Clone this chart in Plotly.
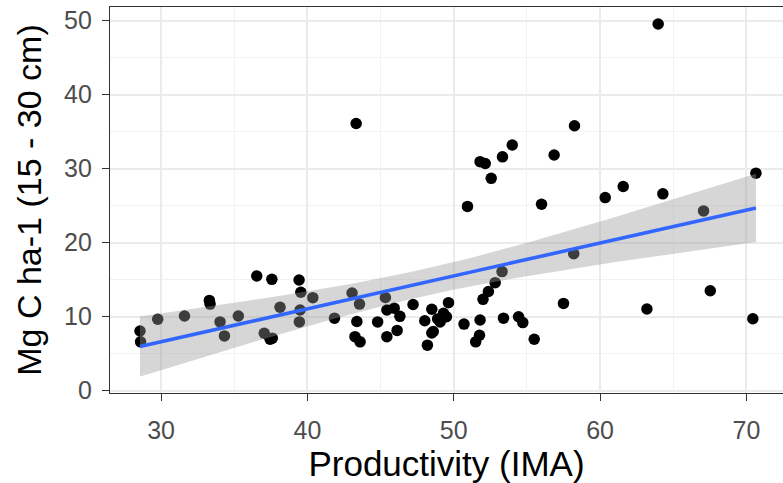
import numpy as np
import plotly.graph_objects as go

# Data
productivity = [28.56, 28.6, 29.77, 31.6, 33.3, 33.35, 34.03, 34.33, 35.28, 36.54,
                37.57, 37.05, 37.45, 37.6, 38.13, 39.43, 39.55, 39.5, 39.45, 40.37,
                41.85, 43.05, 43.56, 43.38, 43.25, 43.6, 43.33, 44.8, 45.33, 45.43,
                45.43, 45.93, 46.32, 46.13, 47.22, 48.5, 48.02, 48.6, 48.5, 48.2,
                49.64, 49.3, 49.07, 48.9, 49.5, 50.7, 50.94, 51.8, 51.76, 51.5,
                51.8, 52.15, 52.56, 52.0, 52.37, 52.83, 53.3, 53.33, 53.4, 54.0,
                54.43, 54.72, 55.5, 56.0, 56.86, 57.5, 58.25, 58.2, 60.35, 61.58,
                63.2, 63.97, 64.29, 67.07, 67.53, 70.44, 70.65]
carbon = [8.07, 6.6, 9.65, 10.1, 12.2, 11.7, 9.3, 7.4, 10.1, 15.5,
          15.05, 7.76, 6.95, 7.1, 11.27, 14.96, 13.3, 10.9, 9.3, 12.57,
          9.8, 13.2, 11.7, 9.35, 7.3, 6.6, 36.1, 9.3, 12.6, 7.3,
          10.9, 11.15, 10.05, 8.15, 11.65, 11.0, 9.45, 8.0, 7.8, 6.15,
          11.9, 10.46, 9.3, 9.7, 10.0, 9.0, 24.9, 9.55, 7.5, 6.6,
          30.95, 30.7, 28.7, 12.35, 13.4, 14.6, 16.1, 31.6, 9.8, 33.2,
          10.0, 9.2, 6.95, 25.2, 31.85, 11.8, 35.8, 18.5, 26.1, 27.6,
          11.04, 49.55, 26.6, 24.3, 13.5, 9.73, 29.4]

x_ticks = [30, 40, 50, 60, 70]
y_ticks = [0, 10, 20, 30, 40, 50]
x_title = "Productivity (IMA)"
y_title = "Mg C ha-1 (15 - 30 cm)"

# Linear fit with 95% confidence band (geom_smooth(method="lm"))
xa = np.array(productivity)
ya = np.array(carbon)
n = len(xa)
b1, b0 = np.polyfit(xa, ya, 1)
resid = ya - (b0 + b1 * xa)
s = np.sqrt(np.sum(resid ** 2) / (n - 2))
xbar = xa.mean()
sxx = np.sum((xa - xbar) ** 2)
xf = np.linspace(xa.min(), xa.max(), 80)
yf = b0 + b1 * xf
tcrit = 1.991
se = s * np.sqrt(1.0 / n + (xf - xbar) ** 2 / sxx)
lo = yf - tcrit * se
hi = yf + tcrit * se

fig = go.Figure()
fig.add_trace(go.Scatter(x=productivity, y=carbon, mode="markers",
                         marker=dict(color="black", size=11.5, line=dict(width=0)),
                         showlegend=False, hoverinfo="skip"))
fig.add_trace(go.Scatter(x=np.concatenate([xf, xf[::-1]]), y=np.concatenate([hi, lo[::-1]]),
                         fill="toself", fillcolor="rgba(153,153,153,0.4)",
                         line=dict(width=0), mode="lines", showlegend=False, hoverinfo="skip"))
fig.add_trace(go.Scatter(x=xf, y=yf, mode="lines", line=dict(color="#3366FF", width=3.6),
                         showlegend=False, hoverinfo="skip"))

font_fam = "Liberation Sans, Arial, sans-serif"
fig.update_layout(
    width=783, height=483,
    margin=dict(l=110, r=0, t=7, b=90, autoexpand=False),
    paper_bgcolor="white", plot_bgcolor="white",
    font=dict(family=font_fam),
    xaxis=dict(range=[26.51, 72.5], tickvals=x_ticks, ticktext=[str(v) for v in x_ticks],
               automargin=False, ticklabelstandoff=8,
               showgrid=True, gridcolor="#EBEBEB", gridwidth=1.6,
               minor=dict(dtick=5, tick0=25, showgrid=True, gridcolor="#F2F2F2", gridwidth=0.8),
               zeroline=False, showline=True, linecolor="#333333", linewidth=1.4, mirror=True,
               ticks="outside", ticklen=7, tickwidth=1.4, tickcolor="#333333",
               tickfont=dict(size=25, color="#4D4D4D"),
               title=dict(text=x_title, font=dict(size=35, color="black"), standoff=6)),
    yaxis=dict(range=[-0.31, 51.85], tickvals=y_ticks, ticktext=[str(v) for v in y_ticks],
               automargin=False, ticklabelstandoff=5, ticklabeloverflow="allow",
               showgrid=True, gridcolor="#EBEBEB", gridwidth=1.6,
               minor=dict(dtick=5, tick0=5, showgrid=True, gridcolor="#F2F2F2", gridwidth=0.8),
               zeroline=False, showline=True, linecolor="#333333", linewidth=1.4,
               ticks="outside", ticklen=7, tickwidth=1.4, tickcolor="#333333",
               tickfont=dict(size=25, color="#4D4D4D"),
               title=dict(text=y_title, font=dict(size=34, color="black"), standoff=12)),
)

fig.write_html("out.html", config={"displayModeBar": False},
               post_script="document.body.style.margin='0';document.body.style.overflow='hidden';")
